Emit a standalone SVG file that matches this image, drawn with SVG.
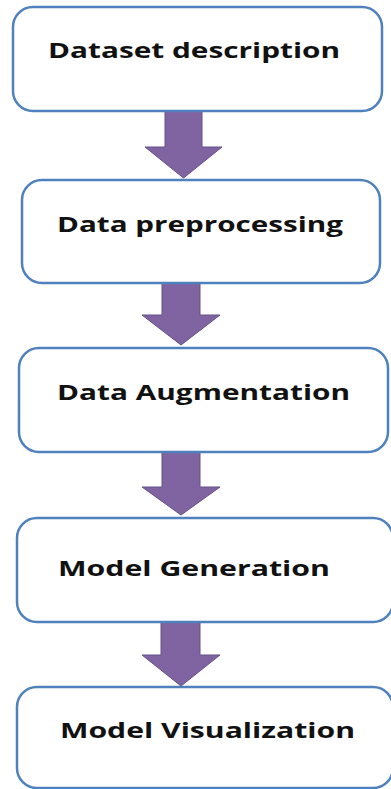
<svg xmlns="http://www.w3.org/2000/svg" width="391" height="789" viewBox="0 0 391 789">
<style>
.box{fill:#fff;stroke:#4f81bd;stroke-width:2.5}
.lbl{font-family:"Open Sans","Liberation Sans",sans-serif;font-weight:bold;font-size:22px;fill:#111}
.arr{fill:#8064a2;stroke:#65508a;stroke-width:1}
</style>
<rect width="391" height="789" fill="#fff"/>
<g id="connectors">
<path class="arr" d="M165,111 H202 V147 H222 L183.5,178 L145,147 H165 Z"/>
<path class="arr" d="M162,283 H200 V315 H220 L181,345 L142,315 H162 Z"/>
<path class="arr" d="M162,452 H200 V487 H220 L181,515 L142,487 H162 Z"/>
<path class="arr" d="M161,622 H200 V655 H220 L181,686 L142,655 H161 Z"/>
</g>
<g id="n1"><rect class="box" x="13" y="7" width="369" height="104" rx="20"/><text class="lbl" x="48" y="58" textLength="292" lengthAdjust="spacingAndGlyphs">Dataset description</text></g>
<g id="n2"><rect class="box" x="22" y="180" width="358" height="103" rx="20"/><text class="lbl" x="57" y="232" textLength="286" lengthAdjust="spacingAndGlyphs">Data preprocessing</text></g>
<g id="n3"><rect class="box" x="19" y="348" width="369" height="104" rx="20"/><text class="lbl" x="57" y="400" textLength="293" lengthAdjust="spacingAndGlyphs">Data Augmentation</text></g>
<g id="n4"><rect class="box" x="17" y="518" width="376" height="104" rx="20"/><text class="lbl" x="58" y="576" textLength="272" lengthAdjust="spacingAndGlyphs">Model Generation</text></g>
<g id="n5"><rect class="box" x="17" y="687" width="376" height="101" rx="20"/><text class="lbl" x="60" y="738" textLength="295" lengthAdjust="spacingAndGlyphs">Model Visualization</text></g>
</svg>
